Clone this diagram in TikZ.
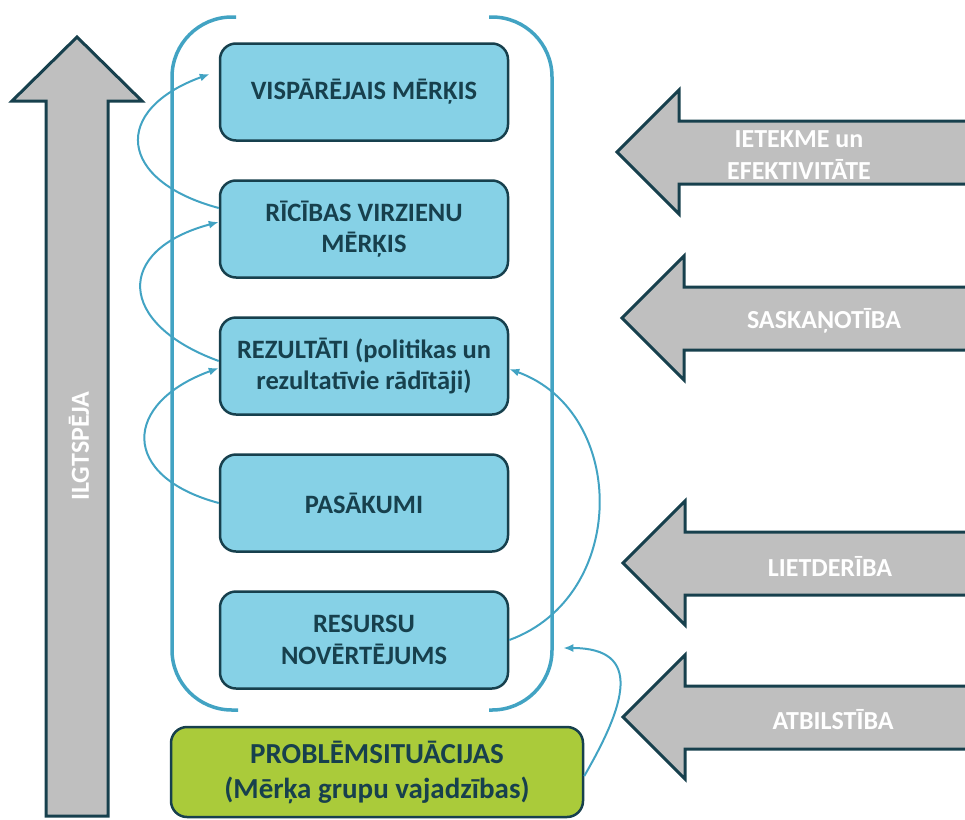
\documentclass[tikz,border=0pt]{standalone}
\usepackage{fontspec}
\setmainfont{Carlito}
\usetikzlibrary{positioning,arrows.meta}

\definecolor{boxblue}{HTML}{86D1E6}
\definecolor{darkteal}{HTML}{17404D}
\definecolor{linkblue}{HTML}{42A3C3}
\definecolor{arrowgray}{HTML}{BFBFBF}
\definecolor{needgreen}{HTML}{AACB3A}

\begin{document}
\begin{tikzpicture}[
  x=1pt, y=-1pt,
  node distance=37.5pt,
  level/.style={
    draw=darkteal, line width=2.5pt, fill=boxblue, rounded corners=16pt,
    minimum width=288pt, minimum height=97pt, align=center,
    text=darkteal, font=\fontsize{26.5}{31.5}\selectfont\bfseries
  },
  need/.style={
    level, fill=needgreen, minimum width=412pt, minimum height=90pt,
    font=\fontsize{29}{35}\selectfont\bfseries
  },
  bigarrow/.style={draw=darkteal, line width=3pt, fill=arrowgray},
  arrowlabel/.style={text=white, align=center, font=\fontsize{26}{32}\selectfont\bfseries},
  link/.style={draw=linkblue, line width=2pt, -{Latex[length=10pt,width=8pt]}},
  bracket/.style={draw=linkblue, line width=3.5pt, rounded corners=60pt}
  ]
  \useasboundingbox (0,0) rectangle (965,819);
  \clip (0,0) rectangle (965,819);

  % sustainability arrow
  \draw [bigarrow] (77,37) -- (142,101) -- (108,101) -- (108,816)
    -- (46,816) -- (46,101) -- (12,101) -- cycle;
  \node [arrowlabel, rotate=90] (sustain) at (79,446) {ILGTSPĒJA};

  % evaluation arrows
  \foreach \tip/\ty/\lx/\name/\txt in {
    617/152/799/impact/{IETEKME un\\EFEKTIVITĀTE},
    622/318/824/coherence/SASKAŅOTĪBA,
    623/563/830/efficiency/LIETDERĪBA,
    623/717/833/relevance/ATBILSTĪBA}
  {
    \draw [bigarrow] (\tip,\ty) -- ++(62,-62) -- ++(0,31) -- (975,\ty-31)
      -- (975,\ty+32) -- (\tip+62,\ty+32) -- ++(0,30) -- cycle;
    \node [arrowlabel] (\name) at (\lx,\ty+3) {\txt};
  }

  % bracket
  \draw [bracket] (236,17) -- (172,17) -- (172,710) -- (238,710);
  \draw [bracket] (489,17) -- (552,17) -- (552,710) -- (489,710);

  % levels
  \node [level] (goal) at (364,92) {VISPĀRĒJAIS MĒRĶIS};
  \node [level, below=of goal] (aim) {RĪCĪBAS VIRZIENU\\MĒRĶIS};
  \node [level, below=of aim] (result) {REZULTĀTI (politikas un\\rezultatīvie rādītāji)};
  \node [level, below=of result] (action) {PASĀKUMI};
  \node [level, below=of action] (resource) {RESURSU\\NOVĒRTĒJUMS};
  \node [need] (problem) at (377,772) {PROBLĒMSITUĀCIJAS\\(Mērķa grupu vajadzības)};
  \coordinate (resource in) at ([xshift=54pt,yshift=-8pt]resource.east);

  % links
  \draw [link] ([yshift=21pt]aim.west) to [out=165, in=200, looseness=2]
    ([xshift=-9pt,yshift=18pt]goal.west);
  \draw [link] ([yshift=5pt]result.west) to [out=160, in=195, looseness=2]
    ([yshift=7pt]aim.west);
  \draw [link] (action.west) to [out=165, in=200, looseness=1.95]
    ([yshift=-2pt]result.west);
  \draw [link] (resource.east) to [out=20, in=-20, looseness=1.2]
    ([yshift=-3pt]result.east);
  \draw [link] ([yshift=-4pt]problem.east) to [out=60, in=0, looseness=1.6]
    (resource in);
\end{tikzpicture}
\end{document}
